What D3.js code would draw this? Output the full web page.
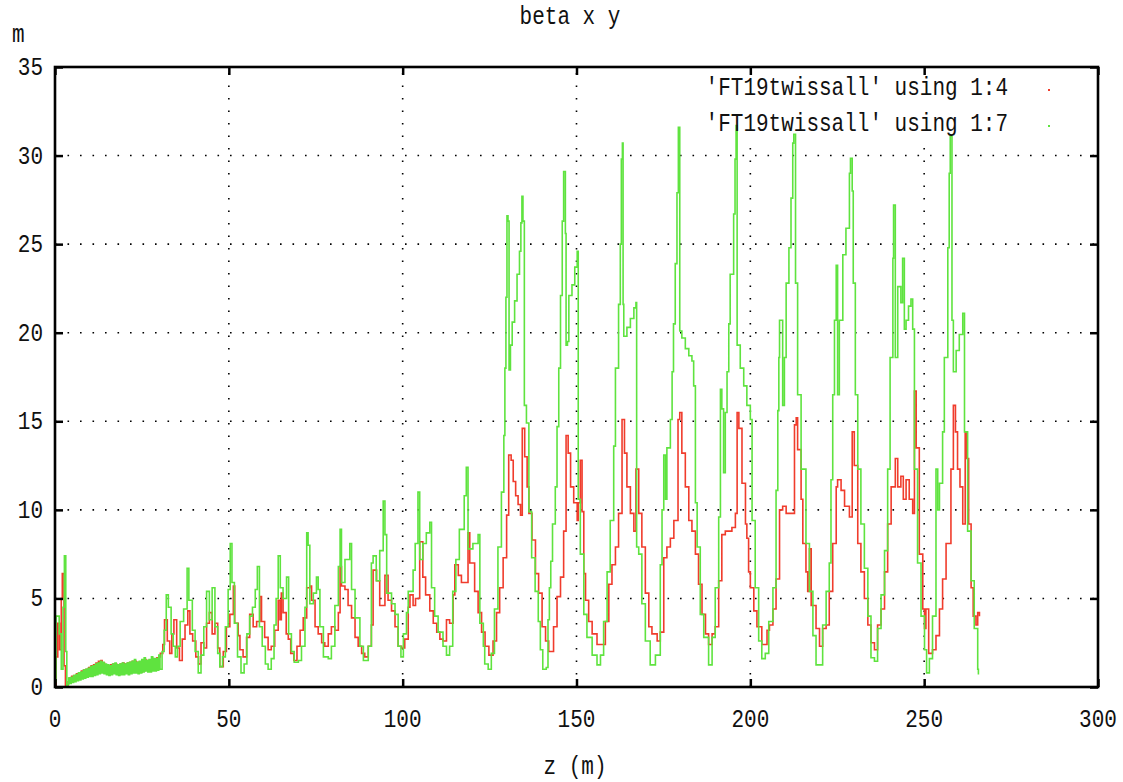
<!DOCTYPE html>
<html>
<head>
<meta charset="utf-8">
<script src="https://cdn.jsdelivr.net/npm/d3@7"></script>
<style>
  body { margin: 0; background: #fff; }
  svg text { font-family: "Liberation Mono", "DejaVu Sans Mono", monospace; font-size: 21px; fill: #111; }
</style>
</head>
<body>
<svg id="chart" width="1123" height="782"></svg>
<script>
const title = 'beta x y';
const xLabel = 'z (m)';
const yLabel = 'm';
const xTicks = [0, 50, 100, 150, 200, 250, 300];
const yTicks = [0, 5, 10, 15, 20, 25, 30, 35];
const seriesNames = ["'FT19twissall' using 1:4", "'FT19twissall' using 1:7"];
const seriesColors = ['#f03c2c', '#5fe33f'];

// column 4 : [z, beta]
const col4 = [
  [0.0,0.1],[0.3,1.7],[0.8,3.6],[1.3,2.1],[1.8,5.0],[2.1,6.4],[2.6,1.2],[3.0,0.05],
  [3.75,0.3],[4.1,0.5],[4.45,0.3],[4.8,0.6],[5.15,0.35],[5.5,0.65],[5.85,0.4],[6.2,0.75],[6.55,0.45],
  [6.9,0.8],[7.25,0.5],[7.6,0.9],[7.95,0.55],[8.3,0.95],[8.65,0.6],[9.0,1.0],[9.35,0.65],[9.7,1.1],
  [10.05,0.7],[10.4,1.2],[10.75,0.7],[11.1,1.25],[11.45,0.75],[11.8,1.35],[12.15,0.8],[12.5,1.45],
  [12.85,0.85],[13.2,1.5],[13.55,0.85],[13.9,1.35],[14.25,0.8],[14.6,1.25],[14.95,0.75],[15.3,1.2],
  [15.65,0.75],[16.0,1.25],[16.35,0.8],[16.7,1.3],[17.05,0.8],[17.4,1.3],[17.75,0.75],[18.1,1.25],
  [18.45,0.75],[18.8,1.3],[19.15,0.75],[19.5,1.35],[19.85,0.8],[20.2,1.3],[20.55,0.8],[20.9,1.35],
  [21.25,0.8],[21.6,1.4],[21.95,0.85],[22.3,1.45],[22.65,0.85],[23.0,1.45],[23.35,0.85],[23.7,1.4],
  [24.05,0.85],[24.4,1.4],[24.75,0.85],[25.1,1.5],[25.45,0.9],[25.8,1.55],[26.15,0.95],[26.5,1.5],
  [26.85,0.9],[27.2,1.5],[27.55,0.95],[27.9,1.6],[28.25,0.95],[28.6,1.55],[28.95,1.0],[29.3,1.65],
  [29.65,1.0],[30.0,1.7],[30.3,1.9],
  [31.0,2.4],[31.5,3.8],[32.3,2.6],[33.0,1.9],[33.6,3.0],[34.2,3.8],[35.0,2.2],[35.8,1.5],[36.6,2.7],
  [37.4,3.5],[38.2,4.3],[38.8,3.0],[39.6,2.6],[40.5,1.7],[41.3,1.3],[42.0,2.5],[42.8,2.2],[43.6,3.6],
  [44.4,4.2],[45.2,3.0],[46.0,3.6],[46.8,2.2],[47.4,1.15],[48.4,2.0],[49.3,3.4],[50.3,4.1],[51.3,5.7],
  [51.7,3.6],[52.7,2.9],[53.2,2.1],[54.1,1.7],[55.1,2.8],[56.0,4.1],[57.0,3.4],[58.0,3.7],[58.9,5.1],
  [59.4,3.7],[60.3,2.8],[61.3,2.1],[62.2,2.3],[63.2,3.2],[64.2,4.9],[64.7,3.8],[65.1,5.3],[65.6,4.2],
  [66.5,3.0],[67.1,2.7],[67.8,1.9],[68.7,1.5],[69.6,2.3],[70.5,3.2],[71.4,3.9],[72.4,5.6],[73.3,5.7],
  [73.8,4.9],[74.8,3.4],[75.7,3.0],[76.7,2.5],[77.6,2.3],[78.6,3.0],[79.5,3.4],[80.5,3.2],[81.5,4.2],
  [82.0,6.8],[82.4,5.7],[83.4,5.5],[84.3,4.6],[85.3,3.9],[86.3,2.8],[87.2,2.3],[88.2,1.9],[89.1,1.7],
  [90.1,2.3],[91.0,3.5],[91.5,6.6],[92.5,6.0],[93.4,4.6],[94.9,6.3],[95.8,4.9],[96.8,4.3],[97.8,3.4],
  [98.7,2.3],[99.7,2.2],[100.6,2.7],[101.6,4.5],[102.1,5.2],[103.0,4.6],[103.7,5.0],[104.9,8.2],[105.8,6.2],
  [106.6,5.2],[107.8,4.3],[108.8,3.6],[109.8,3.1],[110.7,2.7],[111.6,2.6],[112.6,3.8],[113.5,3.6],[114.5,5.2],
  [115.0,6.9],[116.0,6.3],[116.9,5.9],[118.3,5.9],[118.8,8.7],[119.3,7.0],[120.7,5.4],[121.7,4.2],[122.7,3.1],
  [123.7,2.3],[124.8,1.8],[126.0,2.6],[127.0,4.2],[127.9,5.6],[128.9,7.3],[129.9,9.7],[130.5,13.1],[131.2,12.8],
  [131.8,11.6],[132.5,10.8],[133.2,10.3],[133.9,9.7],[134.4,14.6],[135.1,13.0],[135.8,11.3],[136.3,9.8],
  [137.2,8.3],[138.2,6.4],[139.1,5.3],[140.1,3.4],[141.1,2.6],[142.0,2.0],[143.4,3.4],[144.4,5.1],[145.4,6.2],
  [146.3,8.8],[147.0,14.2],[147.6,13.2],[148.3,11.3],[149.2,10.4],[150.2,9.4],[150.5,10.4],[151.1,12.8],
  [151.6,9.9],[152.1,6.4],[152.6,4.9],[153.5,3.7],[154.5,3.0],[155.9,2.4],[157.4,2.4],[158.3,3.7],[159.3,5.8],
  [160.2,6.9],[161.2,7.9],[162.1,9.8],[163.1,15.1],[163.8,13.2],[164.5,11.3],[165.5,9.8],[166.5,8.8],
  [167.1,12.3],[167.9,9.8],[168.8,7.9],[169.8,5.3],[170.8,3.4],[171.7,3.0],[173.2,2.6],[174.1,3.1],[175.1,7.3],
  [176.0,7.9],[177.0,8.4],[178.0,9.4],[179.2,15.1],[179.7,15.5],[180.3,13.2],[181.3,11.3],[182.3,9.4],
  [183.2,8.8],[184.2,7.5],[185.1,5.8],[186.1,4.1],[187.1,3.0],[188.0,2.4],[189.0,3.0],[189.9,3.4],[190.9,6.0],
  [191.8,8.6],[192.8,8.8],[194.7,9.0],[195.7,9.8],[196.2,15.5],[196.7,14.6],[197.6,11.5],[198.6,9.2],
  [199.0,8.4],[199.5,6.5],[200.0,5.6],[201.0,4.3],[201.9,3.4],[203.3,2.4],[204.8,3.2],[205.5,3.5],
  [206.5,4.4],[207.4,6.1],[208.4,10.0],[209.3,10.2],[210.3,9.8],[212.2,9.8],[212.7,14.8],[213.2,15.2],
  [213.6,13.4],[214.6,10.6],[215.1,8.1],[216.0,6.5],[216.5,5.4],[217.0,7.8],[217.5,4.6],[218.9,3.3],
  [219.9,2.3],[220.8,3.3],[221.8,3.5],[222.7,5.4],[223.7,8.1],[224.7,11.3],[225.1,11.7],[226.1,11.1],
  [227.1,10.2],[228.5,9.6],[229.3,14.4],[229.9,12.5],[230.9,8.1],[231.8,6.5],[232.8,5.0],[233.8,3.5],
  [234.7,2.5],[235.7,2.1],[236.6,3.5],[237.6,4.4],[238.6,6.5],[239.5,9.2],[240.5,11.3],[241.7,12.9],
  [242.4,11.3],[243.3,11.9],[244.0,10.6],[244.8,11.7],[245.7,10.6],[246.7,9.8],[247.2,16.7],[247.7,13.5],
  [248.6,7.5],[249.6,4.4],[250.1,3.3],[250.5,4.4],[251.3,1.9],[252.4,2.1],[253.4,2.9],[254.4,4.4],
  [255.3,6.1],[256.3,8.1],[257.7,12.3],[258.4,15.9],[259.0,14.4],[259.6,12.3],[260.3,11.3],[261.1,9.2],
  [261.8,14.4],[262.2,12.9],[262.8,9.2],[263.5,5.6],[264.1,4.0],[264.9,3.5],[265.4,4.2],[265.9,4.0]
];

// column 7 : [z, beta]
const col7 = [
  [0.0,0.3],[0.3,4.0],[1.2,3.0],[1.8,1.0],[2.3,4.5],[2.7,7.4],[3.1,2.0],[3.4,0.1],
  [3.6,0.15],[3.95,0.5],[4.3,0.2],[4.65,0.55],[5.0,0.25],[5.35,0.65],[5.7,0.3],[6.05,0.7],[6.4,0.35],
  [6.75,0.8],[7.1,0.4],[7.45,0.85],[7.8,0.45],[8.15,0.95],[8.5,0.5],[8.85,1.0],[9.2,0.55],[9.55,1.05],
  [9.9,0.6],[10.25,1.15],[10.6,0.6],[10.95,1.2],[11.3,0.65],[11.65,1.3],[12.0,0.7],[12.35,1.35],
  [12.7,0.75],[13.05,1.45],[13.4,0.8],[13.75,1.4],[14.1,0.75],[14.45,1.3],[14.8,0.7],[15.15,1.25],
  [15.5,0.65],[15.85,1.2],[16.2,0.7],[16.55,1.3],[16.9,0.75],[17.25,1.35],[17.6,0.7],[17.95,1.25],
  [18.3,0.65],[18.65,1.3],[19.0,0.7],[19.35,1.35],[19.7,0.7],[20.05,1.3],[20.4,0.75],[20.75,1.35],
  [21.1,0.7],[21.45,1.4],[21.8,0.75],[22.15,1.45],[22.5,0.8],[22.85,1.55],[23.2,0.8],[23.55,1.4],
  [23.9,0.75],[24.25,1.45],[24.6,0.8],[24.95,1.55],[25.3,0.85],[25.65,1.65],[26.0,0.9],[26.35,1.5],
  [26.7,0.85],[27.05,1.55],[27.4,0.85],[27.75,1.7],[28.1,0.9],[28.45,1.6],[28.8,0.9],[29.15,1.6],
  [29.5,0.95],[29.85,1.8],[30.2,1.0],
  [30.8,2.0],[31.4,3.2],[32.0,5.2],[32.6,4.5],[33.4,3.0],[34.0,2.3],[34.6,1.7],[35.2,2.3],[36.0,3.7],
  [37.0,4.4],[38.0,6.7],[38.5,4.9],[39.5,3.2],[40.3,2.0],[41.2,0.8],[42.0,1.8],[42.8,3.4],[43.6,5.4],
  [44.4,3.8],[45.2,5.6],[46.0,3.4],[46.8,1.9],[47.4,1.15],[48.2,1.7],[49.0,3.4],[49.8,5.5],[50.4,8.1],
  [50.9,5.9],[51.6,3.6],[52.5,1.7],[53.5,0.8],[54.4,1.3],[55.2,3.0],[56.0,4.0],[56.8,4.5],[57.6,5.5],
  [58.2,6.8],[58.8,3.4],[59.6,2.3],[60.5,1.3],[61.3,1.0],[62.2,1.6],[63.0,3.5],[63.6,5.0],[64.2,7.4],
  [64.8,5.6],[65.6,5.0],[66.6,6.2],[67.2,3.0],[68.0,2.0],[68.8,1.4],[70.0,1.5],[70.9,2.3],[71.9,4.5],
  [72.4,8.7],[72.8,8.0],[73.3,4.7],[74.3,5.3],[75.2,6.2],[75.7,5.5],[76.2,3.4],[77.2,1.7],[78.6,1.6],
  [79.5,2.3],[80.5,4.6],[81.5,6.8],[82.0,8.9],[82.4,5.9],[83.4,7.2],[84.8,8.1],[85.3,5.5],[86.3,3.9],
  [87.7,2.3],[88.7,1.5],[90.1,2.3],[91.0,7.0],[91.5,7.4],[92.4,6.0],[93.4,7.7],[94.4,10.5],[94.9,8.6],
  [95.4,5.3],[96.8,4.7],[97.8,4.1],[98.7,2.3],[99.5,1.7],[100.2,3.0],[101.1,4.2],[101.6,5.4],[103.0,6.6],
  [103.6,8.1],[104.4,11.0],[104.9,7.2],[105.8,8.1],[106.8,8.7],[107.8,9.3],[108.3,5.6],[109.2,4.0],
  [110.2,3.1],[111.6,2.3],[112.6,1.8],[113.5,2.3],[114.4,5.4],[115.3,7.2],[116.3,8.9],[117.7,10.8],
  [118.3,12.4],[118.8,7.8],[120.2,8.1],[121.7,8.6],[122.2,3.6],[123.2,2.3],[123.6,1.3],[124.6,1.0],
  [125.5,1.9],[126.4,4.4],[127.4,7.9],[128.4,11.0],[129.1,14.2],[129.4,18.0],[129.7,22.0],[130.0,26.6],
  [130.3,26.3],[130.6,17.9],[131.0,19.3],[131.5,20.6],[132.2,21.8],[132.9,23.3],[133.6,24.6],[134.0,26.2],
  [134.3,27.7],[134.6,26.3],[135.0,15.9],[135.6,14.9],[136.3,9.9],[137.1,7.3],[138.1,5.4],[139.0,3.7],
  [139.6,2.1],[140.3,1.0],[141.3,1.1],[141.8,3.8],[142.2,5.6],[142.6,7.1],[143.1,9.2],[143.9,11.3],
  [144.4,14.7],[144.9,18.0],[145.4,22.1],[145.9,26.3],[146.3,29.1],[146.8,25.6],[147.0,19.3],[147.4,19.5],
  [147.8,22.1],[148.7,22.7],[149.5,23.7],[150.2,24.6],[150.5,10.6],[151.1,7.5],[152.1,4.1],[153.0,2.8],
  [154.5,1.8],[155.9,1.25],[156.9,1.8],[157.8,3.7],[158.8,6.5],[159.7,9.4],[160.7,13.6],[161.2,18.0],
  [162.1,21.6],[162.6,25.0],[162.9,29.8],[163.2,30.7],[163.4,21.6],[163.6,19.8],[164.5,20.3],[165.5,20.8],
  [166.5,21.4],[167.1,21.7],[167.3,7.9],[167.9,7.5],[168.8,4.7],[169.8,2.6],[171.2,1.25],[172.7,1.8],
  [174.1,6.9],[174.6,10.0],[175.1,13.1],[175.6,10.6],[176.0,13.5],[177.0,15.1],[177.5,17.8],[177.9,20.5],
  [178.4,23.9],[178.9,27.9],[179.3,31.6],[179.7,20.1],[180.3,19.7],[181.3,19.1],[182.3,18.7],[183.2,18.4],
  [183.7,17.0],[184.2,10.4],[184.7,7.9],[185.6,4.1],[186.6,2.8],[188.0,1.25],[189.0,2.8],[189.9,5.6],
  [190.9,9.6],[191.4,16.8],[191.8,15.7],[192.3,12.1],[192.8,15.5],[193.3,17.8],[193.8,20.5],[194.2,23.3],
  [195.2,26.7],[195.6,29.8],[195.9,31.7],[196.2,19.3],[197.1,18.0],[198.1,17.0],[199.0,15.9],[200.0,15.1],
  [200.5,9.4],[201.4,5.6],[202.4,2.6],[203.3,1.6],[204.3,1.9],[205.3,3.7],
  [206.5,5.6],[207.4,11.1],[207.9,15.6],[208.2,18.6],[208.4,20.7],[209.3,15.9],[209.8,18.6],[210.3,22.8],
  [211.1,24.8],[211.7,27.6],[212.2,30.7],[212.5,31.2],[213.0,22.8],[213.6,16.5],[214.6,12.3],[216.0,8.1],
  [217.0,5.4],[218.0,2.9],[218.9,1.25],[219.9,1.25],[220.8,3.5],[221.8,5.4],[222.7,7.0],[223.2,11.7],
  [223.7,16.5],[224.2,20.7],[224.7,23.8],[225.1,16.5],[225.6,20.7],[226.6,24.4],[227.5,25.9],[228.5,29.0],
  [228.8,29.85],[229.3,28.0],[229.6,22.8],[230.2,16.5],[230.9,12.3],[231.8,9.2],[232.8,6.7],[233.8,4.0],
  [234.7,1.65],[235.7,1.45],[236.6,3.3],[237.6,5.2],[238.6,7.7],[239.5,12.3],[240.2,18.6],[241.0,24.2],
  [241.2,27.2],[241.7,18.6],[242.4,22.6],[243.3,21.7],[243.8,24.2],[244.3,20.2],[244.8,20.7],[245.5,21.5],
  [246.2,21.9],[246.7,20.2],[247.2,12.3],[248.1,7.0],[249.1,4.0],[250.1,2.1],[250.7,0.8],[251.5,1.6],
  [252.4,4.0],[253.4,12.3],[253.9,10.0],[254.4,11.5],[255.3,14.4],[255.8,18.6],[256.8,24.8],[257.2,29.0],
  [257.5,31.1],[258.0,20.7],[258.4,17.8],[259.2,19.0],[260.1,19.9],[261.1,21.1],[261.6,14.4],[262.5,8.8],
  [263.5,6.0],[264.4,3.3],[265.4,1.0],[265.6,0.7]
];

const series = [col4, col7];

const svg = d3.select('#chart');
const x = d3.scaleLinear().domain([0, 300]).range([55, 1098]);
const y = d3.scaleLinear().domain([0, 35]).range([687, 67]);

// the key sits in the top right corner, grid lines stop under it
const keyLeft = 700, keyBottom = 140;

// text is drawn a bit taller than the font, like the bitmap font of the original
function label(px, py, str, anchor) {
  svg.append('text')
      .attr('transform', `translate(${px},${py}) scale(1,1.25)`)
      .attr('text-anchor', anchor || 'start')
      .text(str);
}

// dotted grid
const grid = svg.append('g')
    .attr('stroke', '#000')
    .attr('stroke-width', 1.6)
    .attr('stroke-dasharray', '1.6 10.9');

grid.selectAll('.gx').data(xTicks.slice(1, -1)).enter()
    .append('line')
    .attr('x1', d => x(d)).attr('x2', d => x(d))
    .attr('y1', y(0))
    .attr('y2', d => x(d) > keyLeft ? keyBottom : y(35));

grid.selectAll('.gy').data(yTicks.slice(1, -1)).enter()
    .append('line')
    .attr('x1', x(0)).attr('x2', x(300))
    .attr('y1', d => y(d)).attr('y2', d => y(d));

// data
const line = d3.line()
    .x(d => x(d[0]))
    .y(d => y(d[1]))
    .curve(d3.curveStepAfter);

svg.selectAll('.series').data(series).enter()
    .append('path')
    .attr('d', line)
    .attr('fill', 'none')
    .attr('stroke', (d, i) => seriesColors[i])
    .attr('stroke-width', 1.6);

// axes: ticks point inward on all four sides
const ticks = [
  [d3.axisBottom(x).tickValues(xTicks), `translate(0,${y(0)})`],
  [d3.axisTop(x).tickValues(xTicks), `translate(0,${y(35)})`],
  [d3.axisLeft(y).tickValues(yTicks), `translate(${x(0)},0)`],
  [d3.axisRight(y).tickValues(yTicks), `translate(${x(300)},0)`]
];
ticks.forEach(([axis, tr]) => {
  svg.append('g')
      .attr('transform', tr)
      .call(axis.tickSize(-8).tickFormat(''))
      .call(g => g.select('.domain').remove())
      .call(g => g.selectAll('.tick line').attr('stroke-width', 2.5));
});

svg.append('rect')
    .attr('x', x(0)).attr('y', y(35))
    .attr('width', x(300) - x(0)).attr('height', y(0) - y(35))
    .attr('fill', 'none')
    .attr('stroke', '#000')
    .attr('stroke-width', 2.6);

// tick labels
xTicks.forEach(t => label(x(t), 727, t, 'middle'));
yTicks.forEach(t => label(43, y(t) + 8, t, 'end'));

// titles
label(570, 24, title, 'middle');
label(12, 42, yLabel);
label(575, 774, xLabel, 'middle');

// key
seriesNames.forEach((name, i) => {
  const rowY = 95 + i * 36;
  label(1008, rowY, name, 'end');
  svg.append('rect')
      .attr('x', 1048).attr('y', rowY - 6)
      .attr('width', 2).attr('height', 2)
      .attr('fill', seriesColors[i]);
});
</script>
</body>
</html>
